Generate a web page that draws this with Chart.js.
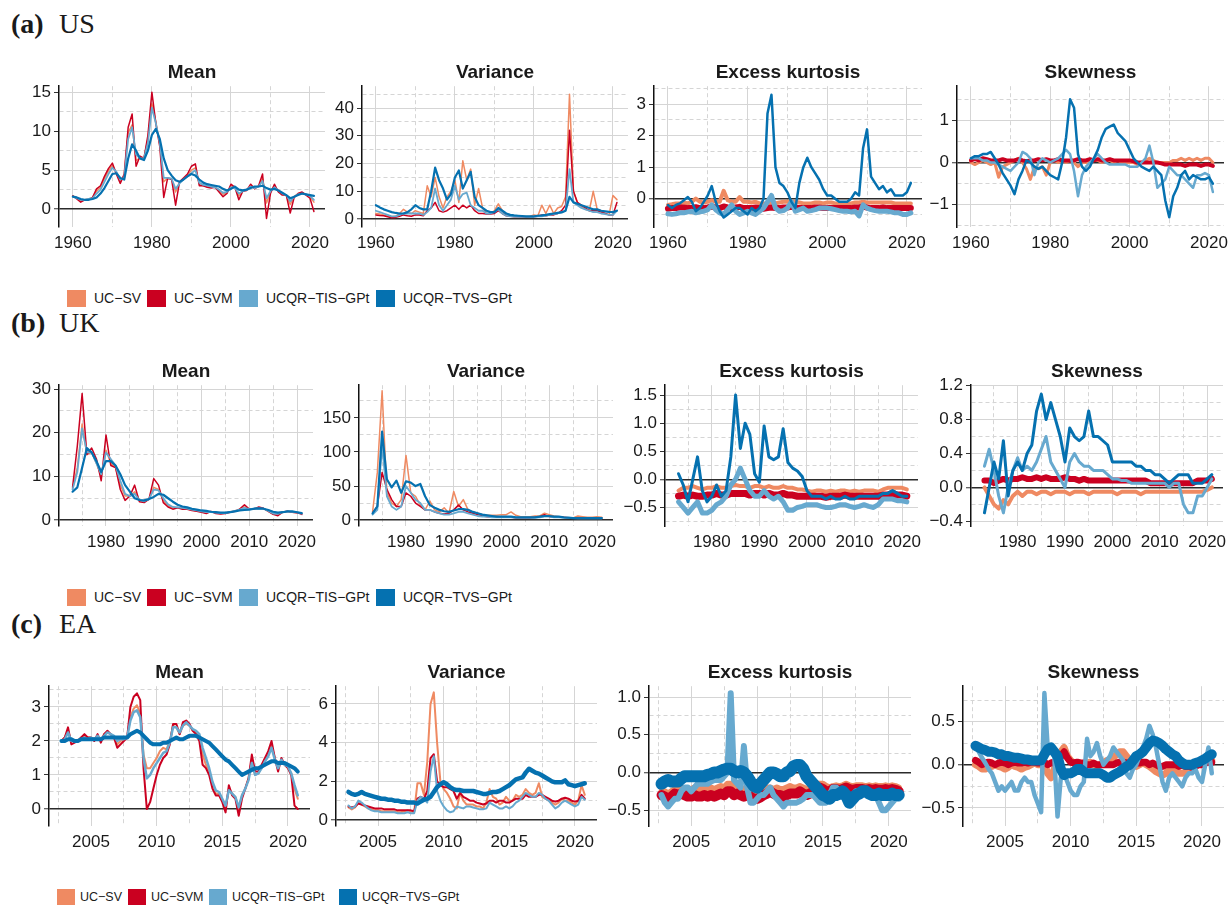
<!DOCTYPE html>
<html>
<head>
<meta charset="utf-8">
<script src="https://cdn.jsdelivr.net/npm/chart.js@4.4.1/dist/chart.umd.min.js"></script>
<style>
  body { margin: 0; background: #fff; width: 1230px; height: 905px; position: relative; overflow: hidden;
         font-family: "Liberation Sans", Arial, sans-serif; color: #1a1a1a; }
  .rowhead { position: absolute; font-family: "Liberation Serif", serif; font-size: 28px; line-height: 32px; white-space: nowrap; }
  .ptitle { position: absolute; font-weight: bold; font-size: 19px; line-height: 22px; text-align: center; }
  .sw { position: absolute; }
  .lt { position: absolute; white-space: nowrap; }
  canvas { position: absolute; }
</style>
</head>
<body>
<script>
// ---- dates ----
const usYears = [1960,1961,1962,1963,1964,1965,1966,1967,1968,1969,
  1970,1971,1972,1973,1974,1975,1976,1977,1978,1979,
  1980,1981,1982,1983,1984,1985,1986,1987,1988,1989,
  1990,1991,1992,1993,1994,1995,1996,1997,1998,1999,
  2000,2001,2002,2003,2004,2005,2006,2007,2008,2009,
  2010,2011,2012,2013,2014,2015,2016,2017,2018,2019,
  2020,2021];
const ukYears = [1973,1974,1975,1976,1977,1978,1979,
  1980,1981,1982,1983,1984,1985,1986,1987,1988,1989,
  1990,1991,1992,1993,1994,1995,1996,1997,1998,1999,
  2000,2001,2002,2003,2004,2005,2006,2007,2008,2009,
  2010,2011,2012,2013,2014,2015,2016,2017,2018,2019,
  2020,2021];
const eaQuarters = [2002.75,
  2003,2003.25,2003.5,2003.75, 2004,2004.25,2004.5,2004.75, 2005,2005.25,2005.5,2005.75,
  2006,2006.25,2006.5,2006.75, 2007,2007.25,2007.5,2007.75, 2008,2008.25,2008.5,2008.75,
  2009,2009.25,2009.5,2009.75, 2010,2010.25,2010.5,2010.75, 2011,2011.25,2011.5,2011.75,
  2012,2012.25,2012.5,2012.75, 2013,2013.25,2013.5,2013.75, 2014,2014.25,2014.5,2014.75,
  2015,2015.25,2015.5,2015.75, 2016,2016.25,2016.5,2016.75, 2017,2017.25,2017.5,2017.75,
  2018,2018.25,2018.5,2018.75, 2019,2019.25,2019.5,2019.75, 2020,2020.25,2020.5,2020.75];

const models = ['UC\u2212SV', 'UC\u2212SVM', 'UCQR\u2212TIS\u2212GPt', 'UCQR\u2212TVS\u2212GPt'];

// ---- US ----
const usMeanSV = [1.7,1.4,1.1,1.2,1.3,1.5,2.3,2.8,3.9,4.9,
  5.6,4.7,3.5,4.3,9.8,10.8,6.2,6.6,6.6,9.0,
  13.5,11.2,8.3,3.5,4.0,3.9,2.2,3.4,3.9,4.3,
  5.0,5.3,3.2,3.0,2.9,2.8,2.8,2.4,1.9,2.1,
  3.0,2.8,1.7,2.3,2.5,3.0,2.7,2.9,3.9,0.8,
  2.2,3.0,2.3,1.9,1.8,0.6,1.6,2.0,2.1,1.9,
  1.6,0.9];
const usMeanSVM = [1.7,1.3,0.9,1.2,1.2,1.5,2.6,3.0,4.2,5.2,
  5.9,4.5,3.3,4.5,10.5,12.2,5.5,6.8,6.5,9.5,
  15.0,11.0,8.0,1.5,4.0,3.8,0.5,3.5,4.0,4.5,
  5.5,5.8,3.0,3.0,2.8,2.7,2.8,2.2,1.6,2.0,
  3.2,2.8,1.2,2.3,2.4,3.2,2.6,3.0,4.5,-1.2,
  2.0,3.2,2.2,1.8,1.8,-0.5,1.5,2.0,2.2,1.8,
  1.4,-0.3];
const usMeanTIS = [1.6,1.4,1.2,1.2,1.3,1.4,2.0,2.5,3.5,4.5,
  5.3,4.8,3.8,4.0,9.0,10.5,7.0,6.5,6.5,8.5,
  13.0,11.0,8.5,4.0,4.0,3.9,2.6,3.3,3.8,4.2,
  4.6,5.0,3.4,3.1,3.0,2.9,2.8,2.5,2.1,2.2,
  2.8,2.7,2.0,2.3,2.5,2.9,2.7,2.9,3.6,1.4,
  2.3,2.8,2.4,2.0,1.8,1.0,1.6,1.9,2.0,1.9,
  1.7,1.2];
const usMeanTVS = [1.6,1.5,1.3,1.2,1.2,1.3,1.5,2.0,2.7,3.6,
  4.5,4.6,4.0,3.8,6.5,8.3,7.5,6.5,6.3,7.5,
  9.5,10.3,9.0,6.5,5.0,4.3,3.7,3.5,3.8,4.2,
  4.5,4.3,3.8,3.4,3.2,3.1,3.0,2.9,2.6,2.4,
  2.6,2.9,2.5,2.4,2.5,2.7,2.9,2.9,3.0,2.7,
  2.5,2.6,2.4,2.1,1.8,1.4,1.6,1.8,2.0,1.9,
  1.8,1.7];

const usVarSV = [2.0,1.8,1.5,1.0,0.8,1.0,2.0,3.5,2.5,2.0,
  3.0,2.5,2.0,12.0,8.0,15.0,8.0,4.0,8.0,10.0,
  14.0,6.0,21.0,14.0,18.0,5.0,11.0,4.0,2.0,2.0,
  3.0,5.5,3.0,1.5,1.2,1.0,1.0,0.9,0.9,1.0,
  1.5,1.2,5.0,2.0,5.0,2.0,4.0,4.5,8.0,45.0,
  10.0,6.0,4.5,3.5,3.0,10.0,3.5,3.0,2.0,1.5,
  8.5,7.0];
const usVarSVM = [1.5,1.3,1.2,0.8,0.5,0.6,1.0,1.5,1.2,1.0,
  1.5,1.5,1.2,3.0,4.0,6.0,3.0,2.5,3.0,4.0,
  5.0,3.5,5.0,4.0,5.0,3.0,2.0,2.0,1.8,1.8,
  2.0,3.0,2.0,1.2,1.0,0.8,0.8,0.7,0.7,0.8,
  0.8,1.0,1.5,1.2,1.5,1.5,2.0,3.0,5.0,32.0,
  10.0,6.0,5.0,4.0,3.0,3.0,3.0,2.5,2.0,1.5,
  1.5,6.0];
const usVarTIS = [3.0,2.5,2.0,1.5,1.0,1.0,1.5,2.0,2.0,2.0,
  2.0,2.0,1.5,2.5,4.0,11.0,5.0,3.0,5.0,7.0,
  12.0,7.0,9.0,9.5,5.0,4.0,3.0,3.0,2.0,2.0,
  2.5,3.5,2.0,1.2,1.0,0.9,0.8,0.8,0.8,0.8,
  0.8,1.0,1.0,1.2,1.5,1.8,2.0,2.5,3.0,18.0,
  6.0,5.0,4.0,3.5,3.0,2.5,2.5,2.0,1.8,1.5,
  1.5,3.0];
const usVarTVS = [5.0,4.2,3.5,3.0,2.5,2.2,2.0,2.0,2.5,3.5,
  5.0,4.0,3.5,3.5,10.0,18.5,14.0,11.0,7.0,9.0,
  15.0,17.5,11.0,14.0,17.0,8.0,5.0,4.0,3.0,2.5,
  2.5,4.0,3.0,2.0,1.5,1.3,1.2,1.1,1.0,1.0,
  1.0,1.2,1.3,1.5,1.8,2.0,2.2,2.4,3.0,8.0,
  6.0,5.5,5.0,4.5,4.0,3.5,3.5,3.0,2.8,2.6,
  2.5,3.0];

const usKurtSV = [-0.2,-0.18,-0.15,-0.15,-0.12,-0.15,-0.1,0.0,-0.1,-0.12,
  -0.1,-0.05,-0.1,-0.1,0.25,-0.05,-0.1,-0.1,0.05,-0.1,
  -0.1,-0.12,-0.1,-0.15,-0.15,-0.15,-0.12,-0.15,-0.12,-0.1,
  -0.1,-0.1,-0.1,-0.12,-0.15,-0.15,-0.15,-0.12,-0.12,-0.15,
  -0.12,-0.12,-0.15,-0.15,-0.15,-0.15,-0.15,-0.12,-0.12,-0.1,
  -0.12,-0.12,-0.12,-0.12,-0.12,-0.12,-0.12,-0.15,-0.15,-0.15,
  -0.15,-0.15];
const usKurtSVM = [-0.32,-0.3,-0.3,-0.28,-0.28,-0.3,-0.3,-0.27,-0.3,-0.3,
  -0.28,-0.25,-0.28,-0.3,-0.25,-0.28,-0.3,-0.28,-0.26,-0.3,
  -0.3,-0.3,-0.28,-0.3,-0.32,-0.3,-0.28,-0.3,-0.3,-0.28,
  -0.28,-0.26,-0.28,-0.3,-0.3,-0.3,-0.3,-0.28,-0.28,-0.3,
  -0.3,-0.3,-0.3,-0.3,-0.3,-0.3,-0.3,-0.28,-0.28,-0.25,
  -0.28,-0.3,-0.3,-0.3,-0.28,-0.3,-0.3,-0.3,-0.3,-0.3,
  -0.3,-0.3];
const usKurtTIS = [-0.48,-0.5,-0.48,-0.45,-0.45,-0.42,-0.4,-0.45,-0.42,-0.4,
  -0.35,-0.2,-0.35,-0.45,-0.5,-0.35,-0.2,-0.4,-0.5,-0.45,
  -0.4,-0.45,-0.5,-0.4,-0.3,-0.1,0.1,-0.3,-0.4,-0.38,
  -0.3,-0.1,-0.4,-0.35,-0.3,-0.4,-0.38,-0.35,-0.3,-0.3,
  -0.3,-0.32,-0.35,-0.38,-0.4,-0.4,-0.42,-0.4,-0.55,-0.2,
  -0.3,-0.35,-0.38,-0.4,-0.4,-0.4,-0.42,-0.45,-0.45,-0.5,
  -0.5,-0.45];
const usKurtTVS = [-0.2,-0.3,-0.2,-0.15,-0.05,0.05,-0.1,-0.4,-0.3,-0.1,
  0.1,0.4,-0.1,-0.4,-0.6,-0.5,-0.4,-0.3,-0.3,-0.4,
  -0.5,-0.3,-0.4,-0.3,0.0,2.7,3.3,1.0,0.5,0.4,
  0.2,-0.1,-0.3,0.5,1.0,1.3,1.0,0.8,0.6,0.3,
  0.1,0.1,0.0,-0.1,-0.1,-0.1,0.0,0.2,0.1,1.6,
  2.2,0.7,0.5,0.3,0.4,0.2,0.3,0.1,0.1,0.1,
  0.2,0.5];

const usSkewSV = [0.0,-0.05,0.0,0.05,0.0,-0.05,0.0,-0.35,-0.1,-0.05,
  0.0,0.05,0.1,0.0,-0.15,-0.4,-0.1,-0.15,-0.1,-0.3,
  0.0,0.05,0.0,0.05,0.0,0.05,0.0,-0.1,0.0,0.0,
  0.0,0.05,0.05,0.0,0.05,0.05,0.0,0.05,0.0,0.0,
  0.0,0.0,-0.05,0.0,0.05,0.1,0.05,0.0,0.0,0.0,
  0.0,0.05,0.05,0.1,0.05,0.1,0.05,0.1,0.05,0.1,
  0.1,0.0];
const usSkewSVM = [0.05,0.08,0.05,0.1,0.08,0.05,0.05,0.05,0.08,0.05,
  0.05,0.05,0.08,0.05,0.03,0.05,0.05,0.08,0.05,0.08,
  0.05,0.05,0.08,0.05,0.05,0.05,0.05,0.08,0.05,0.05,
  0.08,0.05,0.08,0.05,0.05,0.08,0.05,0.05,0.05,0.05,
  0.05,0.03,0.0,0.0,0.0,0.0,0.0,0.0,-0.02,-0.05,
  -0.05,-0.05,-0.05,-0.05,-0.08,-0.05,-0.05,-0.05,-0.08,-0.05,
  -0.05,-0.08];
const usSkewTIS = [0.1,0.1,0.1,0.05,0.05,0.0,0.0,-0.05,-0.1,-0.15,
  -0.2,-0.1,0.0,0.25,0.2,0.1,-0.3,0.0,0.1,0.05,
  0.0,0.05,0.1,0.2,0.3,0.2,-0.2,-0.8,-0.3,-0.1,
  0.0,0.1,0.2,0.1,0.0,-0.05,-0.05,-0.05,-0.05,-0.05,
  -0.1,-0.1,-0.1,0.0,0.1,0.4,0.0,-0.6,-0.5,-0.4,
  -0.1,-0.2,-0.3,-0.3,-0.4,-0.5,-0.6,-0.3,-0.3,-0.25,
  -0.3,-0.7];
const usSkewTVS = [0.1,0.15,0.15,0.2,0.2,0.25,0.1,-0.05,-0.25,-0.4,
  -0.55,-0.75,-0.4,-0.2,0.05,0.0,-0.1,-0.15,-0.1,-0.2,
  -0.3,-0.35,-0.4,0.0,0.6,1.5,1.3,0.2,-0.1,-0.2,
  -0.1,0.1,0.3,0.6,0.8,0.85,0.9,0.7,0.6,0.5,
  0.3,0.1,0.0,-0.1,-0.15,-0.2,-0.1,-0.2,-0.3,-0.9,
  -1.3,-0.8,-0.6,-0.3,-0.2,-0.4,-0.3,-0.35,-0.4,-0.4,
  -0.35,-0.5];

// ---- UK ----
const ukMeanSV = [7.2,12.0,22.0,15.0,15.5,13.0,10.0,
  16.0,13.0,12.0,8.0,5.5,5.5,6.5,4.5,4.2,4.8,
  7.5,7.0,4.5,3.3,2.8,2.9,2.7,2.6,2.3,2.1,
  1.9,1.7,1.9,1.6,1.5,1.6,1.9,2.1,2.5,3.0,
  2.5,2.6,2.8,2.6,2.0,1.4,1.3,1.8,2.0,1.8,
  1.7,1.5];
const ukMeanSVM = [7.5,17.0,29.0,15.0,16.5,14.0,9.0,
  19.5,12.5,12.0,7.0,4.5,5.5,8.0,4.2,4.0,4.8,
  9.5,8.0,4.0,3.0,2.5,2.8,2.5,2.5,2.2,2.0,
  1.8,1.5,2.0,1.5,1.4,1.5,1.8,2.0,2.5,3.5,
  2.5,2.5,3.0,2.7,2.0,1.3,1.0,1.8,2.0,1.8,
  1.7,1.3];
const ukMeanTIS = [7.0,11.0,21.0,15.5,15.5,13.0,10.5,
  15.5,14.0,12.5,9.0,6.0,5.5,6.0,4.6,4.3,4.8,
  7.0,6.8,5.0,3.6,3.0,2.9,2.8,2.6,2.4,2.2,
  2.0,1.8,1.8,1.7,1.6,1.6,1.9,2.1,2.4,2.8,
  2.5,2.6,2.7,2.6,2.1,1.5,1.4,1.8,2.0,1.9,
  1.8,1.5];
const ukMeanTVS = [6.5,7.5,12.0,16.5,15.5,13.5,11.0,
  13.5,13.5,12.5,10.5,8.0,6.5,5.0,4.6,4.5,4.8,
  5.3,6.0,5.8,5.0,4.2,3.5,3.1,2.9,2.6,2.4,
  2.2,2.1,1.9,1.8,1.7,1.7,1.8,2.0,2.2,2.3,
  2.4,2.6,2.7,2.6,2.3,1.9,1.7,1.8,2.0,2.0,
  1.8,1.6];

const ukVarSV = [12,70,190,40,25,20,30,
  95,40,35,22,15,28,15,12,18,10,
  42,20,30,15,12,10,8,7,7,7,
  8,8,12,7,5,5,5,6,6,10,
  8,6,5,4,3,3,6,5,4,4,
  5,4];
const ukVarSVM = [10,20,70,45,30,20,20,
  40,35,25,20,15,15,12,10,9,10,
  15,22,15,12,10,8,6,5,4.5,4,
  4,4,4,3.5,3.5,3.5,3.5,4,5,8,
  5,5,5,4,3.5,3,3,3,3,3,
  3,3];
const ukVarTIS = [8,15,110,35,20,15,20,
  50,40,30,25,15,15,12,10,8,8,
  10,12,12,10,8,6,5,5,4,4,
  4,4,4,3.5,3.5,3.5,3.5,3.5,4,5,
  5,4,4,3.5,3,3,2.5,2.5,2.5,2.5,
  2.5,2.5];
const ukVarTVS = [10,20,130,60,48,58,40,
  57,55,50,53,35,22,18,15,13,12,
  14,16,16,15,12,10,8,7,6,5,
  5,5,5,4,4,4,4,4,5,6,
  6,5,5,4,3.5,3,3,3,3,3,
  3,3];

const ukKurtSV = [-0.2,-0.15,-0.15,-0.12,-0.15,-0.18,-0.15,
  -0.15,-0.12,-0.15,-0.15,-0.12,-0.1,-0.12,-0.12,-0.15,-0.12,
  -0.12,-0.15,-0.12,-0.15,-0.15,-0.12,-0.15,-0.15,-0.18,-0.18,
  -0.2,-0.22,-0.2,-0.2,-0.22,-0.2,-0.22,-0.2,-0.2,-0.22,
  -0.2,-0.22,-0.2,-0.2,-0.2,-0.22,-0.18,-0.15,-0.15,-0.15,
  -0.15,-0.18];
const ukKurtSVM = [-0.3,-0.28,-0.3,-0.28,-0.3,-0.3,-0.28,
  -0.28,-0.25,-0.28,-0.28,-0.25,-0.25,-0.25,-0.25,-0.28,-0.25,
  -0.25,-0.28,-0.25,-0.28,-0.28,-0.25,-0.28,-0.28,-0.3,-0.3,
  -0.3,-0.3,-0.3,-0.3,-0.32,-0.3,-0.3,-0.3,-0.28,-0.3,
  -0.3,-0.3,-0.3,-0.3,-0.3,-0.3,-0.28,-0.28,-0.25,-0.28,
  -0.28,-0.3];
const ukKurtTIS = [-0.4,-0.5,-0.6,-0.5,-0.4,-0.6,-0.6,
  -0.55,-0.45,-0.4,-0.3,-0.1,0.0,0.2,0.0,-0.2,-0.3,
  -0.3,-0.2,-0.3,-0.35,-0.3,-0.4,-0.55,-0.55,-0.5,-0.48,
  -0.45,-0.45,-0.45,-0.48,-0.5,-0.5,-0.48,-0.45,-0.45,-0.48,
  -0.5,-0.48,-0.45,-0.48,-0.5,-0.45,-0.35,-0.35,-0.35,-0.38,
  -0.38,-0.4];
const ukKurtTVS = [0.1,-0.1,-0.4,0.0,0.4,-0.2,-0.4,
  -0.3,-0.1,-0.3,-0.2,0.4,1.5,0.55,1.0,0.8,0.1,
  -0.05,0.95,0.4,0.35,0.4,0.9,0.3,0.2,0.15,0.05,
  -0.2,-0.3,-0.3,-0.3,-0.35,-0.3,-0.35,-0.35,-0.3,-0.35,
  -0.35,-0.3,-0.3,-0.3,-0.3,-0.3,-0.25,-0.25,-0.2,-0.25,
  -0.3,-0.3];

const ukSkewSV = [0.0,-0.1,-0.2,-0.25,-0.15,-0.2,-0.1,
  -0.05,-0.1,-0.05,-0.05,-0.08,-0.05,-0.05,-0.08,-0.05,-0.05,
  -0.05,-0.08,-0.05,-0.05,-0.05,-0.08,-0.05,-0.05,-0.05,-0.05,
  -0.05,-0.08,-0.05,-0.05,-0.05,-0.05,-0.08,-0.05,-0.05,-0.05,
  -0.05,-0.05,-0.05,-0.05,-0.05,-0.05,-0.05,-0.05,-0.05,-0.05,
  -0.03,0.0];
const ukSkewSVM = [0.08,0.08,0.05,0.08,0.1,0.08,0.1,
  0.1,0.12,0.1,0.1,0.12,0.1,0.12,0.1,0.1,0.1,
  0.12,0.1,0.1,0.08,0.1,0.08,0.08,0.08,0.08,0.08,
  0.08,0.08,0.08,0.08,0.08,0.08,0.08,0.08,0.05,0.05,
  0.05,0.05,0.05,0.05,0.05,0.05,0.05,0.05,0.08,0.08,
  0.08,0.1];
const ukSkewTIS = [0.25,0.45,0.2,-0.1,-0.3,0.0,0.2,
  0.35,0.2,0.25,0.2,0.3,0.45,0.6,0.3,0.2,0.1,
  0.0,0.3,0.4,0.3,0.25,0.25,0.2,0.2,0.2,0.15,
  0.1,0.1,0.08,0.08,0.05,0.05,0.05,0.05,0.05,0.05,
  0.05,0.05,0.0,0.05,0.05,-0.2,-0.3,-0.3,-0.1,-0.1,
  0.0,0.1];
const ukSkewTVS = [-0.3,0.0,0.3,0.1,0.55,-0.1,0.2,
  0.3,0.2,0.4,0.5,0.9,1.1,0.8,1.0,0.8,0.6,
  0.3,0.7,0.6,0.55,0.6,0.9,0.6,0.6,0.55,0.5,
  0.3,0.3,0.3,0.3,0.3,0.25,0.25,0.2,0.2,0.15,
  0.15,0.1,0.05,0.1,0.15,0.15,0.15,0.05,0.05,0.05,
  0.1,0.15];

// ---- EA ----
const eaMeanSV = [2.0,
  2.1,2.3,2.0,2.0, 2.0,2.1,2.15,2.1, 2.1,2.05,2.15,2.0,
  2.2,2.25,2.2,2.1, 1.9,2.0,2.05,2.1, 2.7,2.95,3.05,2.8,
  1.6,1.2,1.2,1.35, 1.5,1.7,1.8,1.75, 2.0,2.45,2.4,2.2,
  2.45,2.5,2.45,2.3, 2.25,2.1,1.6,1.3, 1.1,0.7,0.45,0.45,
  0.25,0.05,0.6,0.45, 0.35,0.0,0.4,0.6, 0.9,1.45,1.0,1.05,
  1.25,1.45,1.6,1.85, 1.5,1.2,1.45,1.3, 1.2,1.05,0.6,0.3];
const eaMeanSVM = [2.0,
  2.1,2.4,1.9,1.95, 2.0,2.1,2.2,2.1, 2.1,2.0,2.2,1.95,
  2.2,2.3,2.2,2.1, 1.8,1.9,2.0,2.1, 3.0,3.3,3.4,3.2,
  1.2,0.0,0.2,0.6, 1.0,1.3,1.5,1.6, 1.9,2.5,2.5,2.2,
  2.55,2.6,2.5,2.3, 2.2,2.0,1.3,1.2, 1.0,0.6,0.4,0.4,
  0.2,-0.1,0.7,0.4, 0.3,-0.2,0.3,0.6, 0.9,1.6,1.1,1.1,
  1.3,1.5,1.7,2.0, 1.5,1.1,1.5,1.3, 1.2,1.0,0.1,0.0];
const eaMeanTIS = [2.0,
  2.05,2.25,2.0,2.0, 2.0,2.05,2.1,2.05, 2.1,2.05,2.15,2.05,
  2.15,2.25,2.2,2.15, 2.0,2.05,2.05,2.1, 2.6,2.85,2.9,2.7,
  1.5,0.9,1.0,1.2, 1.35,1.5,1.65,1.7, 1.95,2.4,2.4,2.25,
  2.45,2.55,2.45,2.35, 2.3,2.2,1.8,1.5, 1.2,0.8,0.55,0.5,
  0.3,0.1,0.55,0.45, 0.35,0.05,0.4,0.6, 0.85,1.35,1.0,1.05,
  1.2,1.4,1.55,1.8, 1.45,1.2,1.45,1.3, 1.25,1.05,0.7,0.4];
const eaMeanTVS = [2.0,
  2.0,2.05,2.05,2.0, 2.0,2.05,2.05,2.05, 2.05,2.05,2.05,2.05,
  2.1,2.1,2.1,2.1, 2.1,2.1,2.1,2.1, 2.2,2.25,2.3,2.25,
  2.15,2.05,1.95,1.9, 1.9,1.9,1.95,1.95, 2.0,2.05,2.1,2.05,
  2.05,2.1,2.15,2.15, 2.15,2.1,2.05,2.0, 1.95,1.85,1.75,1.65,
  1.55,1.45,1.4,1.3, 1.2,1.1,1.0,1.05, 1.1,1.15,1.2,1.2,
  1.25,1.3,1.35,1.4, 1.4,1.35,1.35,1.35, 1.3,1.25,1.2,1.1];

const eaVarSV = [0.65,
  0.55,0.65,0.9,0.8, 0.7,0.6,0.55,0.5, 0.5,0.45,0.45,0.45,
  0.45,0.45,0.4,0.4, 0.45,0.5,0.45,0.4, 1.9,1.9,1.3,3.0,
  6.0,6.6,4.0,2.0, 1.6,1.4,1.1,0.7, 0.6,1.4,1.0,0.8,
  0.8,0.8,0.7,0.7, 0.6,0.9,1.6,1.2, 1.1,0.8,0.9,1.2,
  1.0,1.0,1.3,1.2, 1.3,1.6,1.4,1.3, 1.4,1.9,1.2,1.1,
  1.0,0.9,0.8,0.9, 1.1,1.0,1.0,0.9, 0.8,1.0,1.8,1.3];
const eaVarSVM = [0.7,
  0.65,0.7,0.85,0.8, 0.75,0.7,0.65,0.6, 0.6,0.6,0.55,0.55,
  0.55,0.55,0.5,0.5, 0.5,0.5,0.5,0.45, 1.1,1.2,1.1,1.5,
  3.2,3.4,2.0,1.8, 1.7,1.7,1.6,1.5, 1.1,1.4,1.2,1.1,
  1.0,1.0,0.9,0.85, 0.8,0.85,1.0,1.0, 0.9,1.0,1.0,0.9,
  0.9,1.0,1.1,1.1, 1.1,1.3,1.2,1.2, 1.2,1.3,1.3,1.2,
  1.1,1.0,0.95,1.0, 1.1,1.15,1.1,1.0, 0.95,1.0,1.3,1.1];
const eaVarTIS = [0.75,
  0.6,0.7,1.0,0.9, 0.75,0.6,0.5,0.45, 0.45,0.4,0.4,0.4,
  0.4,0.4,0.35,0.35, 0.35,0.4,0.35,0.35, 1.0,1.2,1.1,0.9,
  2.5,3.3,1.5,1.0, 0.7,0.5,0.4,0.45, 0.7,0.65,0.6,0.7,
  0.7,0.65,0.6,0.55, 0.55,0.6,0.9,0.8, 0.7,0.6,0.6,0.7,
  0.6,0.7,0.9,1.0, 1.2,1.4,1.3,1.2, 1.2,1.4,1.3,1.1,
  1.0,0.8,0.6,0.7, 0.9,1.0,0.9,0.8, 0.7,0.8,1.2,1.05];
const eaVarTVS = [1.45,
  1.35,1.3,1.35,1.45, 1.35,1.3,1.25,1.2, 1.15,1.1,1.1,1.05,
  1.05,1.0,1.0,0.95, 0.95,0.9,0.9,0.9, 0.85,0.95,1.05,1.1,
  1.2,1.45,1.7,1.85, 1.95,1.85,1.7,1.6, 1.55,1.55,1.5,1.5,
  1.5,1.5,1.45,1.4, 1.35,1.35,1.4,1.45, 1.45,1.5,1.6,1.7,
  1.8,1.95,2.1,2.15, 2.2,2.45,2.65,2.55, 2.45,2.4,2.3,2.2,
  2.1,2.0,1.95,1.95, 1.95,2.05,1.85,1.8, 1.75,1.8,1.85,1.9];

const eaKurtSV = [-0.25,
  -0.25,-0.28,-0.25,-0.22, -0.22,-0.2,-0.22,-0.25, -0.22,-0.2,-0.22,-0.22,
  -0.2,-0.22,-0.2,-0.22, -0.2,-0.18,-0.2,-0.15, -0.15,-0.2,-0.18,-0.2,
  -0.22,-0.2,-0.2,-0.25, -0.28,-0.25,-0.22,-0.2, -0.2,-0.22,-0.2,-0.22,
  -0.22,-0.2,-0.18,-0.2, -0.2,-0.18,-0.2,-0.22, -0.2,-0.18,-0.15,-0.15,
  -0.15,-0.18,-0.2,-0.18, -0.17,-0.18,-0.17,-0.15, -0.17,-0.18,-0.17,-0.17,
  -0.17,-0.18,-0.17,-0.18, -0.17,-0.18,-0.18,-0.17, -0.18,-0.17,-0.18,-0.2];
const eaKurtSVM = [-0.3,
  -0.32,-0.35,-0.32,-0.28, -0.3,-0.28,-0.3,-0.32, -0.32,-0.3,-0.32,-0.32,
  -0.3,-0.32,-0.3,-0.32, -0.3,-0.28,-0.3,-0.25, -0.25,-0.3,-0.28,-0.3,
  -0.32,-0.3,-0.32,-0.35, -0.35,-0.33,-0.3,-0.28, -0.25,-0.28,-0.3,-0.3,
  -0.32,-0.3,-0.28,-0.28, -0.28,-0.25,-0.28,-0.3, -0.28,-0.25,-0.22,-0.2,
  -0.22,-0.25,-0.25,-0.22, -0.22,-0.23,-0.22,-0.2, -0.22,-0.23,-0.22,-0.22,
  -0.22,-0.23,-0.22,-0.23, -0.22,-0.23,-0.23,-0.22, -0.23,-0.22,-0.23,-0.25];
const eaKurtTIS = [-0.3,
  -0.4,-0.45,-0.4,-0.35, -0.35,-0.25,-0.2,-0.2, -0.25,-0.2,-0.15,-0.15,
  -0.15,-0.15,-0.12,-0.1, -0.1,-0.1,-0.05,0.0, 1.05,-0.1,-0.15,-0.2,
  0.35,-0.2,-0.4,-0.4, -0.35,-0.3,-0.3,-0.25, -0.2,-0.3,-0.35,-0.4,
  -0.45,-0.4,-0.4,-0.4, -0.4,-0.38,-0.35,-0.3, -0.3,-0.3,-0.35,-0.4,
  -0.4,-0.4,-0.3,-0.2, -0.2,-0.25,-0.3,-0.35, -0.35,-0.3,-0.25,-0.25,
  -0.25,-0.25,-0.3,-0.3, -0.3,-0.4,-0.5,-0.5, -0.45,-0.4,-0.35,-0.35];
const eaKurtTVS = [-0.15,
  -0.12,-0.1,-0.12,-0.12, -0.12,-0.08,-0.05,-0.05, -0.05,-0.05,-0.05,-0.05,
  -0.05,-0.03,-0.02,0.0, 0.0,0.02,0.04,0.05, 0.05,0.02,0.0,0.02,
  0.0,-0.05,-0.12,-0.18, -0.2,-0.15,-0.1,-0.05, 0.0,0.0,-0.02,-0.05,
  -0.05,0.0,0.02,0.08, 0.1,0.1,0.05,-0.05, -0.1,-0.15,-0.2,-0.25,
  -0.3,-0.32,-0.35,-0.3, -0.3,-0.28,-0.25,-0.3, -0.4,-0.35,-0.3,-0.28,
  -0.25,-0.25,-0.28,-0.3, -0.3,-0.28,-0.3,-0.3, -0.3,-0.28,-0.3,-0.3];

const eaSkewSV = [0.0,
  -0.02,-0.05,-0.05,-0.03, -0.02,0.0,-0.02,-0.03, -0.05,-0.03,0.0,-0.02,
  -0.03,-0.05,-0.03,-0.02, 0.0,0.02,0.0,0.0, 0.02,-0.1,-0.15,-0.05,
  0.05,0.15,0.2,0.1, 0.05,0.02,0.0,0.0, 0.0,0.02,0.03,0.0,
  -0.02,0.0,0.02,0.05, 0.05,0.08,0.12,0.15, 0.15,0.1,0.05,0.0,
  -0.02,0.0,0.02,0.0, -0.02,-0.05,-0.08,-0.1, -0.12,-0.1,-0.05,-0.05,
  -0.08,-0.1,-0.1,-0.08, -0.05,-0.03,0.0,0.02, 0.03,0.05,0.05,0.05];
const eaSkewSVM = [0.05,
  0.03,0.0,0.02,0.03, 0.02,0.0,0.02,0.03, 0.02,0.0,0.02,0.03,
  0.02,0.02,0.03,0.02, 0.03,0.03,0.02,0.02, 0.03,0.0,0.02,0.03,
  0.02,0.1,0.15,0.08, 0.03,0.02,0.03,0.02, 0.02,0.0,0.0,0.02,
  0.0,0.0,0.0,0.0, 0.0,0.0,0.02,0.03, 0.03,0.02,0.02,0.03,
  0.02,0.02,0.03,0.03, 0.0,0.02,0.0,-0.02, -0.02,0.0,0.0,0.0,
  0.0,-0.02,0.0,-0.02, -0.02,-0.03,-0.02,0.0, 0.0,0.02,0.03,0.03];
const eaSkewTIS = [0.22,
  0.15,0.08,0.02,-0.05, -0.1,-0.2,-0.3,-0.25, -0.3,-0.25,-0.2,-0.3,
  -0.3,-0.2,-0.15,-0.2, -0.2,-0.35,-0.45,-0.55, 0.83,0.2,0.15,0.1,
  -0.6,-0.15,-0.1,-0.2, -0.3,-0.35,-0.35,-0.25, -0.2,0.3,0.1,0.15,
  0.25,0.1,0.0,0.05, 0.1,0.2,0.15,0.1, 0.05,-0.1,-0.15,-0.05,
  0.0,0.1,0.2,0.3, 0.45,0.35,0.2,0.0, -0.2,-0.3,-0.15,-0.1,
  -0.15,-0.2,-0.25,-0.15, -0.1,-0.1,-0.05,-0.15, -0.2,0.0,0.2,-0.1];
const eaSkewTVS = [0.22,
  0.2,0.18,0.17,0.15, 0.15,0.14,0.12,0.12, 0.1,0.1,0.09,0.08,
  0.08,0.07,0.06,0.06, 0.05,0.05,0.05,0.05, 0.12,0.18,0.2,0.15,
  0.1,-0.05,-0.12,-0.1, -0.1,-0.08,-0.05,-0.05, -0.08,-0.1,-0.1,-0.1,
  -0.1,-0.1,-0.12,-0.15, -0.15,-0.12,-0.1,-0.08, -0.05,-0.02,0.0,0.05,
  0.1,0.12,0.15,0.2, 0.25,0.28,0.27,0.25, 0.22,0.18,0.15,0.12,
  0.1,0.05,0.02,0.0, 0.0,0.0,0.02,0.03, 0.05,0.07,0.1,0.12];

// ---- tick values (major = labelled + solid grid, minor = dashed grid) ----
const usXMajor = [1960,1980,2000,2020], usXMinor = [1970,1990,2010];
const ukXMajor = [1980,1990,2000,2010,2020], ukXMinor = [1975,1985,1995,2005,2015];
const eaXMajor = [2005,2010,2015,2020], eaXMinor = [2002.5,2007.5,2012.5,2017.5];

const usMeanY = [0,5,10,15], usMeanYm = [2.5,7.5,12.5];
const usVarY = [0,10,20,30,40], usVarYm = [5,15,25,35,45];
const usKurtY = [0,1,2,3], usKurtYm = [-0.5,0.5,1.5,2.5,3.5];
const usSkewY = [-1,0,1], usSkewYm = [-1.5,-0.5,0.5,1.5];
const ukMeanY = [0,10,20,30], ukMeanYm = [5,15,25];
const ukVarY = [0,50,100,150], ukVarYm = [25,75,125,175];
const ukKurtY = [-0.5,0,0.5,1,1.5], ukKurtYm = [-0.75,-0.25,0.25,0.75,1.25];
const ukSkewY = [-0.4,0,0.4,0.8,1.2], ukSkewYm = [-0.2,0.2,0.6,1.0];
const eaMeanY = [0,1,2,3], eaMeanYm = [0.5,1.5,2.5,3.5];
const eaVarY = [0,2,4,6], eaVarYm = [1,3,5];
const eaKurtY = [-0.5,0,0.5,1], eaKurtYm = [-0.25,0.25,0.75];
const eaSkewY = [-0.5,0,0.5], eaSkewYm = [-0.25,0.25,0.75];

// ---- styling ----
const colors = ['#EF8A62', '#CA0020', '#67A9CF', '#0571B0'];
const gridCol = '#D5D5D5';
Chart.defaults.font.family = "'Liberation Sans', Arial, sans-serif";

function fmt(v, dec) {
  const s = (Math.abs(v) < 1e-9 ? 0 : v).toFixed(dec);
  return s.replace('-', '\u2212');
}
function has(arr, v) { return arr.some(a => Math.abs(a - v) < 1e-9); }

function panel(p) {
  const w = p.r - p.l, h = p.b - p.t;
  const cv = document.createElement('canvas');
  cv.width = w + 75; cv.height = h + 42;
  cv.style.left = (p.l - 50) + 'px'; cv.style.top = (p.t - 12) + 'px';
  document.body.appendChild(cv);

  const t = document.createElement('div');
  t.className = 'ptitle'; t.textContent = p.title;
  t.style.left = p.l + 'px'; t.style.width = w + 'px'; t.style.top = (p.t - 24) + 'px';
  document.body.appendChild(t);

  const datasets = p.ys.map((ys, i) => ({
    data: p.xs.map((x, j) => ({x: x, y: ys[j]})),
    borderColor: colors[i], borderWidth: p.lw[i],
    pointRadius: 0, tension: 0, fill: false,
    borderJoinStyle: 'round', borderCapStyle: 'round',
    order: 4 - i
  }));

  new Chart(cv, {
    type: 'line',
    data: {datasets: datasets},
    options: {
      responsive: false, animation: false, events: [],
      layout: {padding: {left: 0, top: 12, right: 25, bottom: 0}},
      plugins: {legend: {display: false}, tooltip: {enabled: false}},
      scales: {
        x: {
          type: 'linear', min: p.xr[0], max: p.xr[1], bounds: 'data',
          afterBuildTicks: s => {
            s.ticks = p.xt.concat(p.xm).filter(v => v >= s.min && v <= s.max)
              .sort((a, b) => a - b).map(v => ({value: v}));
          },
          afterFit: s => { s.height = 30; },
          grid: {color: gridCol, lineWidth: 1, drawTicks: false},
          border: {display: false, dash: c => (c.tick && has(p.xm, c.tick.value)) ? [4, 3] : []},
          ticks: {autoSkip: false, maxRotation: 0, padding: 6, color: '#1A1A1A',
                  font: {size: 17}, callback: v => has(p.xt, v) ? String(v) : ''}
        },
        y: {
          min: p.yr[0], max: p.yr[1], bounds: 'data',
          afterBuildTicks: s => {
            s.ticks = p.yt.concat(p.ym).filter(v => v >= s.min && v <= s.max)
              .sort((a, b) => a - b).map(v => ({value: v}));
          },
          afterFit: s => { s.width = 50; },
          grid: {
            color: c => (c.tick && Math.abs(c.tick.value) < 1e-9) ? '#2B2B2B' : gridCol,
            lineWidth: c => (c.tick && Math.abs(c.tick.value) < 1e-9) ? 1.5 : 1,
            drawTicks: true, tickLength: 5, tickWidth: 1,
            tickColor: c => (c.tick && has(p.yt, c.tick.value)) ? '#333' : 'rgba(0,0,0,0)'
          },
          border: {display: true, color: '#111', width: 1.5,
                   dash: c => (c.tick && has(p.ym, c.tick.value)) ? [4, 3] : []},
          ticks: {autoSkip: false, padding: 3, color: '#1A1A1A', font: {size: 17},
                  callback: v => has(p.yt, v) ? fmt(v, p.dec) : ''}
        }
      }
    }
  });
}

function rowHead(tag, name, top) {
  const a = document.createElement('div');
  a.className = 'rowhead'; a.style.left = '11px'; a.style.top = top + 'px';
  a.innerHTML = '<b>' + tag + '</b>';
  document.body.appendChild(a);
  const b = document.createElement('div');
  b.className = 'rowhead'; b.style.left = '59px'; b.style.top = top + 'px';
  b.textContent = name;
  document.body.appendChild(b);
}

function legend(top, xs, sw, sh, gap, size) {
  models.forEach((m, i) => {
    const s = document.createElement('div');
    s.className = 'sw';
    s.style.cssText = `left:${xs[i]}px;top:${top}px;width:${sw}px;height:${sh}px;background:${colors[i]};`;
    document.body.appendChild(s);
    const t = document.createElement('div');
    t.className = 'lt'; t.textContent = m;
    t.style.cssText = `left:${xs[i] + sw + gap}px;top:${top}px;height:${sh}px;line-height:${sh}px;font-size:${size}px;`;
    document.body.appendChild(t);
  });
}

const usX = [1956.5, 2023.8], ukX = [1970.16, 2023.35], eaX = [2001.8, 2021.68];
const lwLine = [1.5, 1.5, 1.8, 2.2];

const panels = [
  {title: 'Mean', l: 59, r: 325, t: 85, b: 227, xs: usYears, xr: usX, xt: usXMajor, xm: usXMinor,
   yr: [-2.29, 15.76], yt: usMeanY, ym: usMeanYm, dec: 0, lw: lwLine,
   ys: [usMeanSV, usMeanSVM, usMeanTIS, usMeanTVS]},
  {title: 'Variance', l: 362, r: 628, t: 85, b: 227, xs: usYears, xr: usX, xt: usXMajor, xm: usXMinor,
   yr: [-2.86, 47.86], yt: usVarY, ym: usVarYm, dec: 0, lw: lwLine,
   ys: [usVarSV, usVarSVM, usVarTIS, usVarTVS]},
  {title: 'Excess kurtosis', l: 654, r: 922, t: 85, b: 227, xs: usYears, xr: usX, xt: usXMajor, xm: usXMinor,
   yr: [-0.9, 3.57], yt: usKurtY, ym: usKurtYm, dec: 0, lw: [4, 6, 5, 2.5],
   ys: [usKurtSV, usKurtSVM, usKurtTIS, usKurtTVS]},
  {title: 'Skewness', l: 957, r: 1224, t: 85, b: 227, xs: usYears, xr: usX, xt: usXMajor, xm: usXMinor,
   yr: [-1.53, 1.81], yt: usSkewY, ym: usSkewYm, dec: 0, lw: [3, 4, 2.5, 2.5],
   ys: [usSkewSV, usSkewSVM, usSkewTIS, usSkewTVS]},

  {title: 'Mean', l: 59, r: 313, t: 384, b: 526, xs: ukYears, xr: ukX, xt: ukXMajor, xm: ukXMinor,
   yr: [-1.36, 30.9], yt: ukMeanY, ym: ukMeanYm, dec: 0, lw: lwLine,
   ys: [ukMeanSV, ukMeanSVM, ukMeanTIS, ukMeanTVS]},
  {title: 'Variance', l: 359, r: 613, t: 384, b: 526, xs: ukYears, xr: ukX, xt: ukXMajor, xm: ukXMinor,
   yr: [-8.7, 198.1], yt: ukVarY, ym: ukVarYm, dec: 0, lw: lwLine,
   ys: [ukVarSV, ukVarSVM, ukVarTIS, ukVarTVS]},
  {title: 'Excess kurtosis', l: 665, r: 918, t: 384, b: 526, xs: ukYears, xr: ukX, xt: ukXMajor, xm: ukXMinor,
   yr: [-0.83, 1.676], yt: ukKurtY, ym: ukKurtYm, dec: 1, lw: [4, 7, 5, 3],
   ys: [ukKurtSV, ukKurtSVM, ukKurtTIS, ukKurtTVS]},
  {title: 'Skewness', l: 971, r: 1223, t: 384, b: 526, xs: ukYears, xr: ukX, xt: ukXMajor, xm: ukXMinor,
   yr: [-0.455, 1.205], yt: ukSkewY, ym: ukSkewYm, dec: 1, lw: [4, 6, 3, 3],
   ys: [ukSkewSV, ukSkewSVM, ukSkewTIS, ukSkewTVS]},

  {title: 'Mean', l: 49, r: 310, t: 685, b: 826, xs: eaQuarters, xr: eaX, xt: eaXMajor, xm: eaXMinor,
   yr: [-0.5, 3.61], yt: eaMeanY, ym: eaMeanYm, dec: 0, lw: [2, 2, 2.5, 4],
   ys: [eaMeanSV, eaMeanSVM, eaMeanTIS, eaMeanTVS]},
  {title: 'Variance', l: 336, r: 597, t: 685, b: 826, xs: eaQuarters, xr: eaX, xt: eaXMajor, xm: eaXMinor,
   yr: [-0.31, 6.92], yt: eaVarY, ym: eaVarYm, dec: 0, lw: [2, 2, 2, 4.5],
   ys: [eaVarSV, eaVarSVM, eaVarTIS, eaVarTVS]},
  {title: 'Excess kurtosis', l: 649, r: 911, t: 685, b: 826, xs: eaQuarters, xr: eaX, xt: eaXMajor, xm: eaXMinor,
   yr: [-0.71, 1.145], yt: eaKurtY, ym: eaKurtYm, dec: 1, lw: [6, 10, 6, 12],
   ys: [eaKurtSV, eaKurtSVM, eaKurtTIS, eaKurtTVS]},
  {title: 'Skewness', l: 963, r: 1224, t: 685, b: 826, xs: eaQuarters, xr: eaX, xt: eaXMajor, xm: eaXMinor,
   yr: [-0.71, 0.91], yt: eaSkewY, ym: eaSkewYm, dec: 1, lw: [7, 7, 4.5, 10],
   ys: [eaSkewSV, eaSkewSVM, eaSkewTIS, eaSkewTVS]}
];

rowHead('(a)', 'US', 7.5);
rowHead('(b)', 'UK', 306.5);
rowHead('(c)', 'EA', 607.5);
panels.forEach(panel);
legend(290, [67, 147, 239, 376], 19, 17, 8, 14);
legend(589, [67, 147, 239, 376], 19, 17, 8, 14);
legend(889, [57, 128, 209, 339], 18, 16, 5, 12.5);
</script>
</body>
</html>
